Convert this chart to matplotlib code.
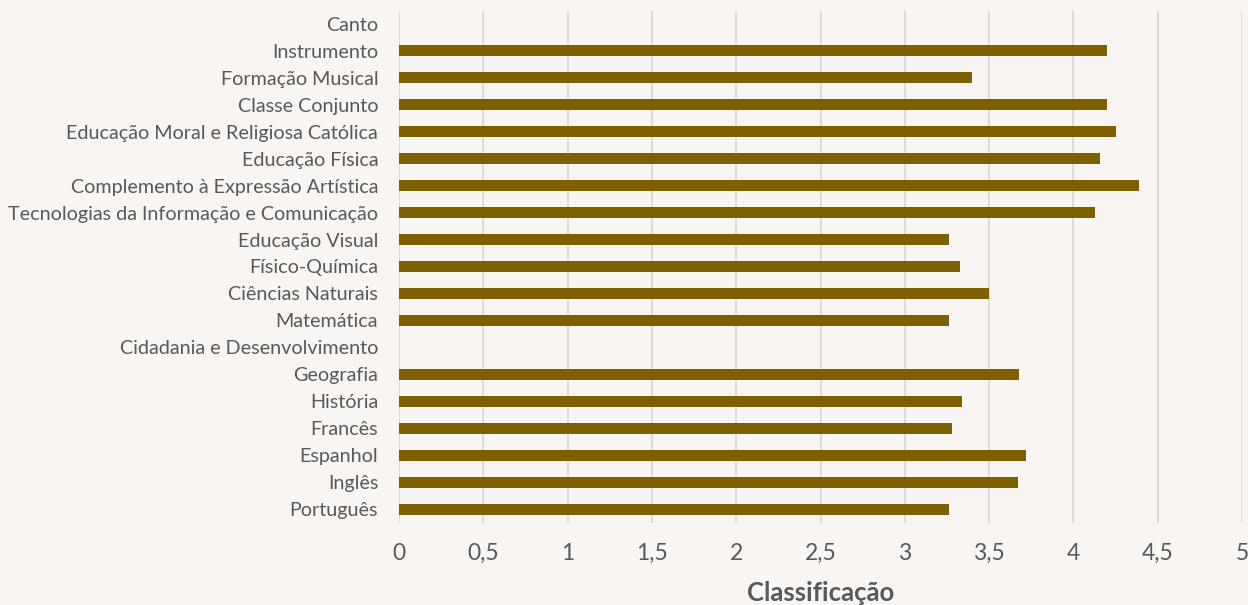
import matplotlib
matplotlib.use("Agg")
import matplotlib.pyplot as plt
from matplotlib.ticker import FuncFormatter

categories = [
    "Português", "Inglês", "Espanhol", "Francês", "História", "Geografia",
    "Cidadania e Desenvolvimento", "Matemática", "Ciências Naturais",
    "Físico-Química", "Educação Visual",
    "Tecnologias da Informação e Comunicação",
    "Complemento à Expressão Artística", "Educação Física",
    "Educação Moral e Religiosa Católica", "Classe Conjunto",
    "Formação Musical", "Instrumento", "Canto",
]
values = [3.26, 3.67, 3.72, 3.28, 3.34, 3.68,
          None, 3.26, 3.50,
          3.33, 3.26,
          4.13,
          4.39, 4.16,
          4.25, 4.20,
          3.40, 4.20, None]
x_ticks = [0, 0.5, 1, 1.5, 2, 2.5, 3, 3.5, 4, 4.5, 5]
x_label = "Classificação"

bg = "#F8F5F2"
bar_color = "#7F6000"
text_color = "#595959"
grid_color = "#D9D9D9"

plt.rcParams['font.family'] = ['Lato', 'DejaVu Sans']

fig = plt.figure(figsize=(12.48, 6.05), dpi=100, facecolor=bg)
ax = fig.add_axes([399/1248, 1 - 522.5/605, (1242-399)/1248, (522.5-10.5)/605])
ax.set_facecolor(bg)

ys = list(range(len(categories)))
vals = [v if v is not None else 0 for v in values]
ax.barh(ys, vals, height=0.41, color=bar_color, zorder=3)

ax.set_ylim(-0.5, len(categories) - 0.5)
ax.set_xlim(0, 5)
ax.set_yticks(ys)
ax.set_yticklabels(categories, fontsize=14.2, color=text_color)
ax.set_xticks(x_ticks)
ax.xaxis.set_major_formatter(FuncFormatter(lambda v, p: ('%g' % v).replace('.', ',')))
ax.tick_params(axis='x', labelsize=16.5, colors=text_color, length=0, pad=15)
ax.tick_params(axis='y', length=0, pad=15)
ax.grid(axis='x', color=grid_color, linewidth=1.3, zorder=0)
for s in ax.spines.values():
    s.set_visible(False)
ax.set_xlabel(x_label, fontsize=18.5, fontweight='bold', color=text_color, labelpad=12)

fig.savefig("out.png", dpi=100, facecolor=bg)
